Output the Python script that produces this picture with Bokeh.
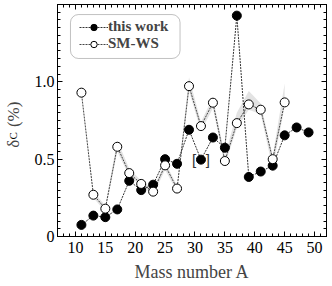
import math
from bokeh.plotting import figure
from bokeh.models import (Range1d, FixedTicker, LinearAxis, Title, BoxAnnotation,
                          Legend, LegendItem, ColumnDataSource)
from bokeh.embed import file_html
from bokeh.resources import INLINE

# ---- data ----
mass_this = [11, 13, 15, 17, 19, 21, 23, 25, 27, 29, 31, 33, 35, 37, 39, 41, 43, 45, 47, 49]
dc_this = [0.075, 0.135, 0.125, 0.175, 0.36, 0.30, 0.335, 0.50, 0.47, 0.69, 0.497, 0.64,
           0.574, 1.428, 0.385, 0.42, 0.458, 0.654, 0.705, 0.673]

mass_sm = [11, 13, 15, 17, 19, 21, 23, 25, 27, 29, 31, 33, 35, 37, 39, 41, 43, 45]
dc_sm = [0.93, 0.27, 0.18, 0.58, 0.41, 0.34, 0.29, 0.46, 0.31, 0.972, 0.714, 0.865,
         0.488, 0.733, 0.854, 0.82, 0.50, 0.867]
sm_lo = [0.93, 0.25, 0.16, 0.55, 0.39, 0.33, 0.27, 0.43, 0.29, 0.94, 0.68, 0.83,
         0.46, 0.70, 0.82, 0.79, 0.44, 0.84]
sm_hi = [0.93, 0.29, 0.20, 0.62, 0.44, 0.36, 0.31, 0.48, 0.33, 1.03, 0.74, 0.90,
         0.52, 0.80, 0.94, 0.86, 0.52, 0.99]

bracket_mass = 31  # value in brackets

x_major = [10, 15, 20, 25, 30, 35, 40, 45, 50]
y_major = [0, 0.5, 1.0]
y_labels = {0: "0", 0.5: "0.5", 1: "1.0"}

FONT = "Liberation Serif"
NB = "\u00a0"

p = figure(width=330, height=284, x_range=Range1d(7, 52), y_range=Range1d(0, 1.5),
           output_backend="svg", toolbar_location=None,
           min_border_left=56, min_border_right=4, min_border_top=4, min_border_bottom=48)
p.xgrid.visible = False
p.ygrid.visible = False
p.outline_line_color = "black"
p.outline_line_width = 1

xt = FixedTicker(ticks=x_major, minor_ticks=list(range(7, 53)))
yt = FixedTicker(ticks=y_major, minor_ticks=[round(i * 0.05, 2) for i in range(31)])


def style_axis(ax, show_labels, ticks=None):
    ax.major_tick_in = 5
    ax.major_tick_out = 0
    ax.minor_tick_in = 3
    ax.minor_tick_out = 0
    ax.axis_line_color = "black"
    ax.major_tick_line_color = "black"
    ax.minor_tick_line_color = "black"
    if show_labels:
        ax.major_label_text_font = FONT
        ax.major_label_text_font_size = "16px"
        ax.major_label_text_color = "black"
    else:
        ax.major_label_overrides = {t: "" for t in ticks}
        ax.major_label_text_font_size = "1px"
        ax.major_label_standoff = 0


p.xaxis.ticker = xt
p.yaxis.ticker = yt
style_axis(p.xaxis[0], True)
style_axis(p.yaxis[0], True)
p.yaxis.major_label_overrides = y_labels
p.yaxis.major_label_standoff = 3
p.xaxis.major_label_standoff = 5
p.xaxis.axis_label = "Mass number A"
p.xaxis.axis_label_text_font = FONT
p.xaxis.axis_label_text_font_style = "normal"
p.xaxis.axis_label_text_font_size = "18px"
p.xaxis.axis_label_standoff = 6

# y axis label: "δ" + subscript "C" + "(%)"
p.yaxis.axis_label = "δ" + NB * 3 + "(%)" + NB * 2
p.yaxis.axis_label_text_font = FONT
p.yaxis.axis_label_text_font_style = "normal"
p.yaxis.axis_label_text_font_size = "17px"
p.yaxis.axis_label_standoff = 9

top = LinearAxis(ticker=xt)
style_axis(top, False, x_major)
p.add_layout(top, "above")
right = LinearAxis(ticker=yt)
style_axis(right, False, y_major)
p.add_layout(right, "right")

sub = Title(text="C", text_font=FONT, text_font_style="normal", text_font_size="11px",
            text_color="black", align="left", vertical_align="bottom",
            offset=97, standoff=-36)
p.add_layout(sub, "left")

# shaded band
band = ColumnDataSource(dict(x=mass_sm, lo=sm_lo, hi=sm_hi))
p.varea(x="x", y1="lo", y2="hi", source=band, fill_color="#d9d9d9", fill_alpha=0.75)

src_this = ColumnDataSource(dict(x=mass_this, y=dc_this))
src_sm = ColumnDataSource(dict(x=mass_sm, y=dc_sm))

l_sm = p.line("x", "y", source=src_sm, line_color="#444444", line_width=1, line_dash="2 1")
l_this = p.line("x", "y", source=src_this, line_color="#333333", line_width=1, line_dash="2 1")
m_this = p.scatter("x", "y", source=src_this, marker="circle", size=9,
                   fill_color="black", line_color="black")
m_sm = p.scatter("x", "y", source=src_sm, marker="circle", size=9,
                 fill_color="white", line_color="black", line_width=1)

# brackets around the uncertain point
bi = mass_this.index(bracket_mass)
br = ColumnDataSource(dict(x=[mass_this[bi] - 1.15, mass_this[bi] + 1.15],
                           y=[dc_this[bi], dc_this[bi]], t=["[", "]"]))
p.text("x", "y", text="t", source=br, text_align="center", text_baseline="middle",
       text_font_size="15px", text_color="#333333")

# legend frame (rounded)
p.add_layout(BoxAnnotation(left=9.17, right=27.5, top=1.435, bottom=1.151,
                           fill_color=None, line_color="#333333", line_width=1,
                           border_radius=8))

legend = Legend(items=[LegendItem(label="this work", renderers=[l_this, m_this]),
                       LegendItem(label="SM-WS", renderers=[l_sm, m_sm])],
                location=(22, 184))
legend.border_line_color = None
legend.background_fill_alpha = 0
legend.padding = 0
legend.margin = 0
legend.spacing = 0
legend.glyph_width = 29
legend.glyph_height = 16
legend.label_height = 16
legend.label_standoff = 0
legend.label_text_font = FONT
legend.label_text_font_style = "bold"
legend.label_text_font_size = "15px"
legend.label_text_baseline = "middle"
p.add_layout(legend, "center")

open("out.html", "w").write(file_html(p, INLINE))
